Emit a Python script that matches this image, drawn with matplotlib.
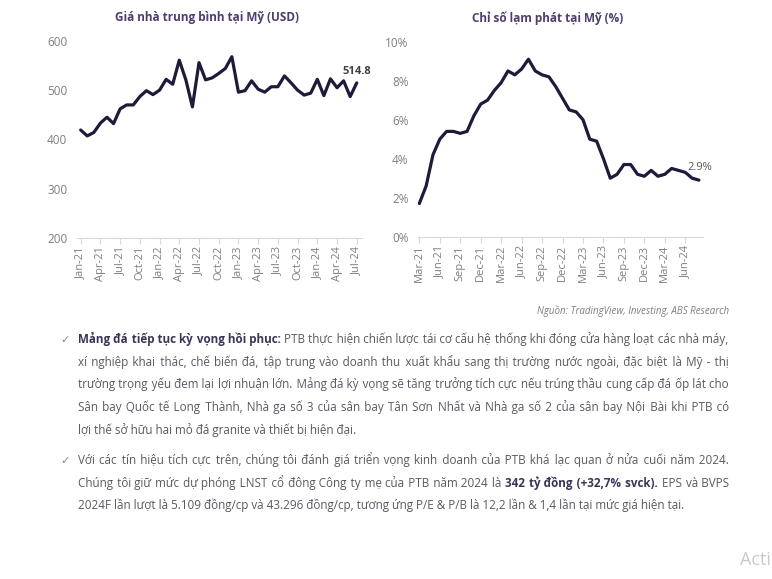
import matplotlib
matplotlib.use("Agg")
import matplotlib.pyplot as plt

plt.rcParams['font.family'] = ['Open Sans', 'DejaVu Sans']

# --- données ---
house_labels = ["Jan-21", "Apr-21", "Jul-21", "Oct-21", "Jan-22", "Apr-22", "Jul-22", "Oct-22",
                "Jan-23", "Apr-23", "Jul-23", "Oct-23", "Jan-24", "Apr-24", "Jul-24"]
house_price = [419, 407, 414, 433, 445, 432, 462, 470, 470, 487, 499, 491,
               500, 522, 512, 561, 521, 466, 556, 521, 525, 534, 544, 568,
               496, 499, 519, 502, 496, 507, 507, 529, 515, 500, 490, 494,
               522, 489, 523, 505, 519, 487, 514.8]
house_yticks = [200, 300, 400, 500, 600]

cpi_labels = ["Mar-21", "Jun-21", "Sep-21", "Dec-21", "Mar-22", "Jun-22", "Sep-22",
              "Dec-22", "Mar-23", "Jun-23", "Sep-23", "Dec-23", "Mar-24", "Jun-24"]
cpi = [1.7, 2.6, 4.2, 5.0, 5.4, 5.4, 5.3, 5.4, 6.2, 6.8, 7.0, 7.5,
       7.9, 8.5, 8.3, 8.6, 9.1, 8.5, 8.3, 8.2, 7.7, 7.1, 6.5, 6.4,
       6.0, 5.0, 4.9, 4.0, 3.0, 3.2, 3.7, 3.7, 3.2, 3.1, 3.4, 3.1,
       3.2, 3.5, 3.4, 3.3, 3.0, 2.9]
cpi_yticks = [0, 2, 4, 6, 8, 10]
cpi_yticklabels = ["0%", "2%", "4%", "6%", "8%", "10%"]

para1 = [
    [("Mảng đá tiếp tục kỳ vọng hồi phục:", True),
     ("PTB thực hiện chiến lược tái cơ cấu hệ thống khi đóng cửa hàng loạt các nhà máy,", False)],
    [("xí nghiệp khai thác, chế biến đá, tập trung vào doanh thu xuất khẩu sang thị trường nước ngoài, đặc biệt là Mỹ - thị", False)],
    [("trường trọng yếu đem lại lợi nhuận lớn. Mảng đá kỳ vọng sẽ tăng trưởng tích cực nếu trúng thầu cung cấp đá ốp lát cho", False)],
    [("Sân bay Quốc tế Long Thành, Nhà ga số 3 của sân bay Tân Sơn Nhất và Nhà ga số 2 của sân bay Nội Bài khi PTB có", False)],
    [("lợi thế sở hữu hai mỏ đá granite và thiết bị hiện đại.", False)],
]
para2 = [
    [("Với các tín hiệu tích cực trên, chúng tôi đánh giá triển vọng kinh doanh của PTB khá lạc quan ở nửa cuối năm 2024.", False)],
    [("Chúng tôi giữ mức dự phóng LNST cổ đông Công ty mẹ của PTB năm 2024 là", False),
     ("342 tỷ đồng (+32,7% svck).", True),
     ("EPS và BVPS", False)],
    [("2024F lần lượt là 5.109 đồng/cp và 43.296 đồng/cp, tương ứng P/E & P/B là 12,2 lần & 1,4 lần tại mức giá hiện tại.", False)],
]

W, H = 772, 579
LINE = "#1f1a3a"
GREY = "#7f7f7f"
AXIS = "#d9d9d9"
TITLE = "#4e3d6e"

fig = plt.figure(figsize=(W / 100, H / 100), dpi=100)


def style_axes(ax):
    for s in ["left", "top", "right"]:
        ax.spines[s].set_visible(False)
    ax.spines["bottom"].set_color(AXIS)
    ax.spines["bottom"].set_linewidth(0.8)
    ax.tick_params(axis="y", length=0, labelsize=8.5, labelcolor=GREY, pad=7)
    ax.tick_params(axis="x", length=4, color=AXIS, labelsize=8, labelcolor=GREY,
                   labelrotation=90, pad=2)


# graphique gauche : prix moyen des maisons
ax1 = fig.add_axes([77 / W, 1 - 237.7 / H, (362 - 77) / W, (237.7 - 41) / H])
ax1.plot(range(len(house_price)), house_price, color=LINE, linewidth=2.3,
         solid_joinstyle="round", solid_capstyle="round")
ax1.set_xlim(-0.56, 42.8)
ax1.set_ylim(200, 600)
ax1.set_yticks(house_yticks)
ax1.set_xticks(range(0, len(house_price), 3))
ax1.set_xticklabels(house_labels)
style_axes(ax1)
ax1.annotate(f"{house_price[-1]:.1f}", (len(house_price) - 1, house_price[-1]),
             xytext=(0, 4), textcoords="offset points", ha="center", va="bottom",
             fontsize=8, fontweight="bold", color="#404040")

# graphique droit : inflation
ax2 = fig.add_axes([418.3 / W, 1 - 236.7 / H, (703 - 418.3) / W, (236.7 - 41.7) / H])
ax2.plot(range(len(cpi)), cpi, color=LINE, linewidth=2.3,
         solid_joinstyle="round", solid_capstyle="round")
ax2.set_xlim(-0.15, 41.6)
ax2.set_ylim(0, 10)
ax2.set_yticks(cpi_yticks)
ax2.set_yticklabels(cpi_yticklabels)
ax2.set_xticks(range(0, 40, 3))
ax2.set_xticklabels(cpi_labels)
style_axes(ax2)
ax2.annotate(f"{cpi[-1]}%", (len(cpi) - 1, cpi[-1]),
             xytext=(1, 5), textcoords="offset points", ha="center", va="bottom",
             fontsize=8, color="#595959")

fig.text(207 / W, 1 - 18 / H, "Giá nhà trung bình tại Mỹ (USD)", ha="center", va="center",
         fontsize=8.5, fontweight="bold", color=TITLE)
fig.text(548 / W, 1 - 18 / H, "Chỉ số lạm phát tại Mỹ (%)", ha="center", va="center",
         fontsize=8.5, fontweight="bold", color=TITLE)

fig.text(729 / W, 1 - 311 / H, "Nguồn: TradingView, Investing, ABS Research",
         ha="right", va="center", fontsize=7, style="italic", color=GREY)

# texte justifié : une chaîne par segment, espaces élargis avec des espaces fines
X0, X1 = 78, 729
HAIR = "\u200a"
fig.canvas.draw()
renderer = fig.canvas.get_renderer()


def text_width(s, bold, size):
    t = fig.text(0, 0, s, fontsize=size, fontweight="bold" if bold else "normal")
    w = t.get_window_extent(renderer).width
    t.remove()
    return w


def space_width(bold, size):
    return text_width("a a", bold, size) - text_width("aa", bold, size)


def natural_width(segments, size):
    words = [(w, b) for txt, b in segments for w in txt.split()]
    return (sum(text_width(w, b, size) for w, b in words)
            + space_width(False, size) * (len(words) - 1))


BODY = 8.6
widest = max(natural_width(l, BODY) for p in (para1, para2) for l in p[:-1])
if widest > (X1 - X0) * 0.985:
    BODY = BODY * (X1 - X0) * 0.985 / widest
SP = {b: space_width(b, BODY) for b in (False, True)}
HW = {b: (text_width("a" + HAIR * 20 + "a", b, BODY) - text_width("aa", b, BODY)) / 20
      for b in (False, True)}


def draw_line(segments, y, justify):
    words = [(w, b) for txt, b in segments for w in txt.split()]
    widths = [text_width(w, b, BODY) for w, b in words]
    gap = (X1 - X0 - sum(widths)) / (len(words) - 1) if justify else SP[False]
    x = X0
    idx = 0
    for txt, b in segments:
        seg_words = txt.split()
        s = seg_words[0]
        extra_acc = 0.0
        for w in seg_words[1:]:
            extra_acc += gap - SP[b]
            k = int(round(extra_acc / HW[b])) if HW[b] > 0.05 else 0
            extra_acc -= k * HW[b]
            s += " " + HAIR * max(k, 0) + w
        fig.text(x / W, 1 - y / H, s, fontsize=BODY, va="baseline", ha="left",
                 fontweight="bold" if b else "normal",
                 color="#3d3358" if b else "#5b5862")
        n = len(seg_words)
        x += sum(widths[idx:idx + n]) + gap * n
        idx += n


def draw_para(lines, y0, step=22.7):
    fig.text(60 / W, 1 - y0 / H, "✓", fontsize=8, color="#8a8a8a", va="baseline",
             family="DejaVu Sans")
    for i, segs in enumerate(lines):
        draw_line(segs, y0 + i * step, i < len(lines) - 1)


draw_para(para1, 343)
draw_para(para2, 464)

fig.text(771 / W, 1 - 565 / H, "Acti", fontsize=13, color="#c9c9c9", va="baseline", ha="right")

fig.savefig("out.png", dpi=100)
